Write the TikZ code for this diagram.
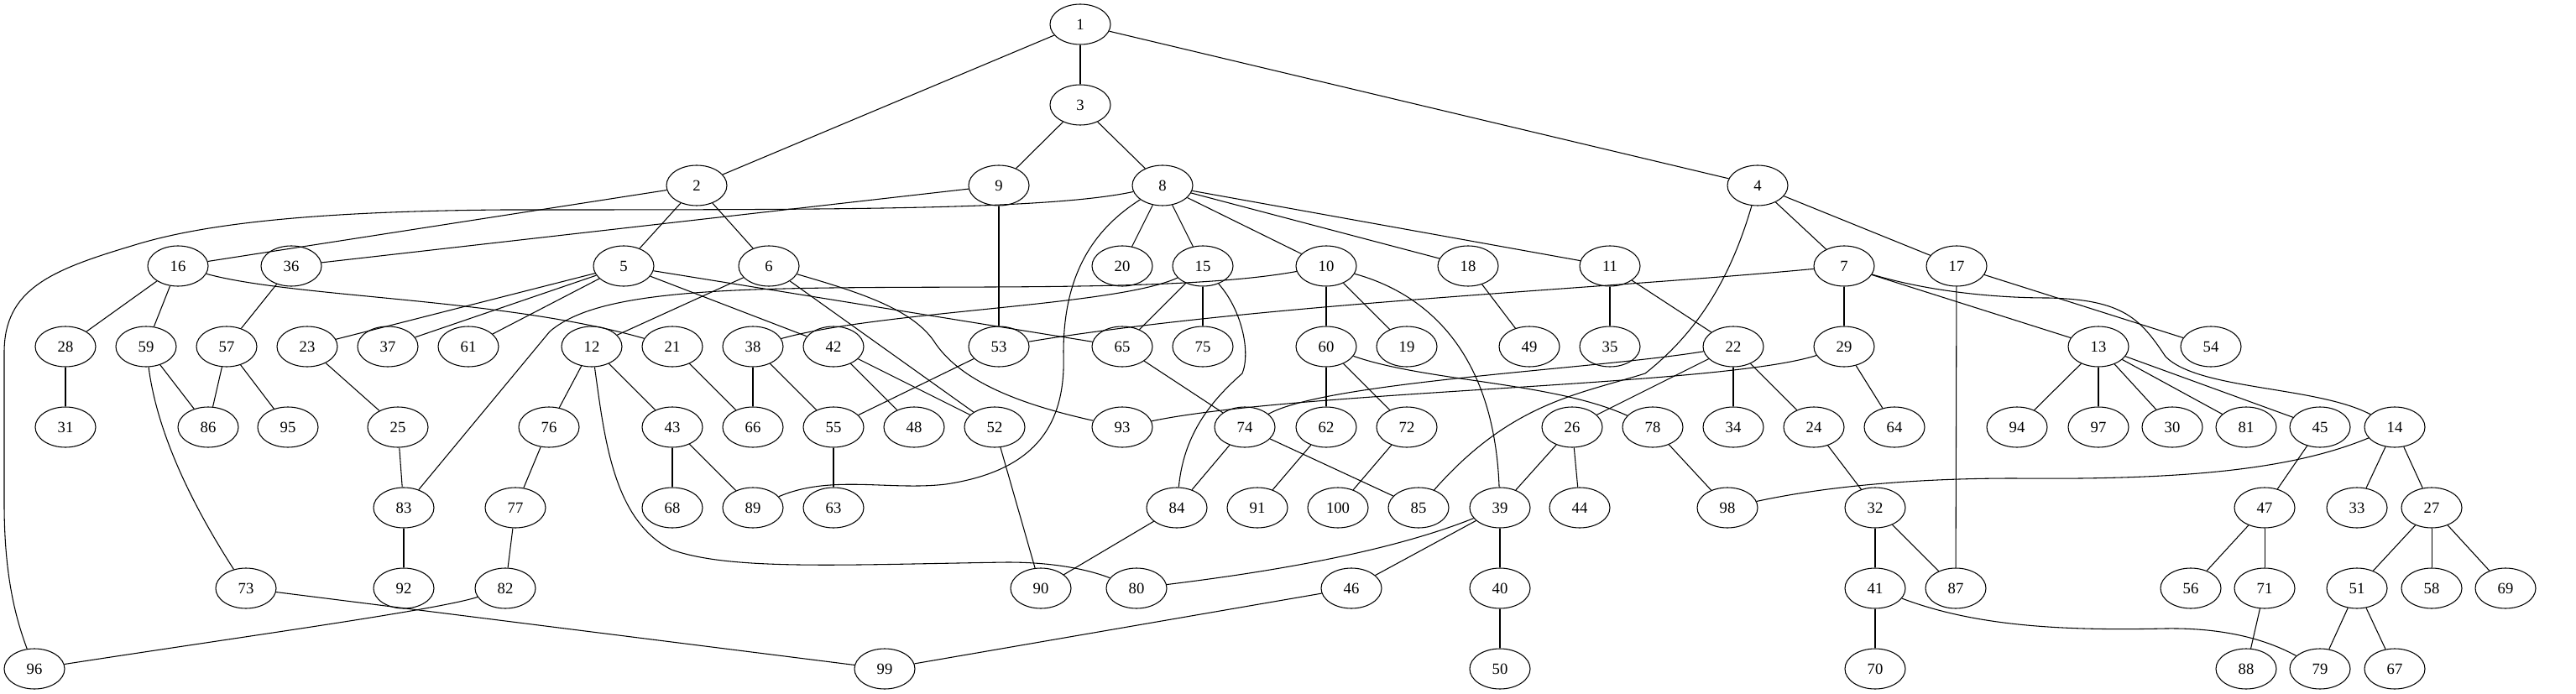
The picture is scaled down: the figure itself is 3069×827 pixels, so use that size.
\documentclass[tikz,border=0pt]{standalone}
\usepackage{fontspec}
\setmainfont{Liberation Serif}
\usetikzlibrary{shapes.geometric}
\tikzset{
	vertex/.style={draw, ellipse, line width=0.8pt, minimum width=54pt, minimum height=36pt, inner sep=0pt, font=\fontsize{14}{16}\selectfont},
	link/.style={line width=0.8pt}
}
\begin{document}
\begin{tikzpicture}[x=0.75pt, y=-0.75pt]
			%%%%% START %%%%%
			\useasboundingbox (0,0) rectangle (3069,827);
			
			% rank 0 and 1
			\node[vertex] (n1) at (1287, 29) {1};
			\node[vertex] (n3) at (1287, 125) {3};
			
			% rank 2
			\node[vertex] (n2) at (830, 221) {2};
			\node[vertex] (n9) at (1190, 221) {9};
			\node[vertex] (n8) at (1385, 221) {8};
			\node[vertex] (n4) at (2094, 221) {4};
			
			% rank 3
			\node[vertex] (n16) at (212, 317) {16};
			\node[vertex] (n36) at (347, 317) {36};
			\node[vertex] (n5) at (743, 317) {5};
			\node[vertex] (n6) at (916, 317) {6};
			\node[vertex] (n20) at (1337, 317) {20};
			\node[vertex] (n15) at (1433, 317) {15};
			\node[vertex] (n10) at (1580, 317) {10};
			\node[vertex] (n18) at (1749, 317) {18};
			\node[vertex] (n11) at (1918, 317) {11};
			\node[vertex] (n7) at (2197, 317) {7};
			\node[vertex] (n17) at (2331, 317) {17};
			
			% rank 4
			\node[vertex] (n28) at (78, 413) {28};
			\node[vertex] (n59) at (174, 413) {59};
			\node[vertex] (n57) at (270, 413) {57};
			\node[vertex] (n23) at (366, 413) {23};
			\node[vertex] (n37) at (462, 413) {37};
			\node[vertex] (n61) at (558, 413) {61};
			\node[vertex] (n12) at (705, 413) {12};
			\node[vertex] (n21) at (801, 413) {21};
			\node[vertex] (n38) at (897, 413) {38};
			\node[vertex] (n42) at (993, 413) {42};
			\node[vertex] (n53) at (1190, 413) {53};
			\node[vertex] (n65) at (1337, 413) {65};
			\node[vertex] (n75) at (1433, 413) {75};
			\node[vertex] (n60) at (1580, 413) {60};
			\node[vertex] (n19) at (1676, 413) {19};
			\node[vertex] (n49) at (1822, 413) {49};
			\node[vertex] (n35) at (1918, 413) {35};
			\node[vertex] (n22) at (2065, 413) {22};
			\node[vertex] (n29) at (2197, 413) {29};
			\node[vertex] (n13) at (2500, 413) {13};
			\node[vertex] (n54) at (2634, 413) {54};
			
			% rank 5
			\node[vertex] (n31) at (78, 509) {31};
			\node[vertex] (n86) at (248, 509) {86};
			\node[vertex] (n95) at (343, 509) {95};
			\node[vertex] (n25) at (474, 509) {25};
			\node[vertex] (n76) at (654, 509) {76};
			\node[vertex] (n43) at (801, 509) {43};
			\node[vertex] (n66) at (897, 509) {66};
			\node[vertex] (n55) at (993, 509) {55};
			\node[vertex] (n48) at (1089, 509) {48};
			\node[vertex] (n52) at (1185, 509) {52};
			\node[vertex] (n93) at (1337, 509) {93};
			\node[vertex] (n74) at (1483, 509) {74};
			\node[vertex] (n62) at (1580, 509) {62};
			\node[vertex] (n72) at (1676, 509) {72};
			\node[vertex] (n26) at (1873, 509) {26};
			\node[vertex] (n78) at (1969, 509) {78};
			\node[vertex] (n34) at (2065, 509) {34};
			\node[vertex] (n24) at (2161, 509) {24};
			\node[vertex] (n64) at (2257, 509) {64};
			\node[vertex] (n94) at (2403, 509) {94};
			\node[vertex] (n97) at (2500, 509) {97};
			\node[vertex] (n30) at (2588, 509) {30};
			\node[vertex] (n81) at (2676, 509) {81};
			\node[vertex] (n45) at (2764, 509) {45};
			\node[vertex] (n14) at (2853, 509) {14};
			
			% rank 6
			\node[vertex] (n83) at (481, 605) {83};
			\node[vertex] (n77) at (614, 605) {77};
			\node[vertex] (n68) at (801, 605) {68};
			\node[vertex] (n89) at (897, 605) {89};
			\node[vertex] (n63) at (993, 605) {63};
			\node[vertex] (n84) at (1402, 605) {84};
			\node[vertex] (n91) at (1498, 605) {91};
			\node[vertex] (n100) at (1594, 605) {100};
			\node[vertex] (n85) at (1690, 605) {85};
			\node[vertex] (n39) at (1787, 605) {39};
			\node[vertex] (n44) at (1882, 605) {44};
			\node[vertex] (n98) at (2058, 605) {98};
			\node[vertex] (n32) at (2234, 605) {32};
			\node[vertex] (n47) at (2698, 605) {47};
			\node[vertex] (n33) at (2808, 605) {33};
			\node[vertex] (n27) at (2897, 605) {27};
			
			% rank 7
			\node[vertex] (n73) at (293, 701) {73};
			\node[vertex] (n92) at (481, 701) {92};
			\node[vertex] (n82) at (602, 701) {82};
			\node[vertex] (n90) at (1240, 701) {90};
			\node[vertex] (n80) at (1354, 701) {80};
			\node[vertex] (n46) at (1610, 701) {46};
			\node[vertex] (n40) at (1787, 701) {40};
			\node[vertex] (n41) at (2234, 701) {41};
			\node[vertex] (n87) at (2330, 701) {87};
			\node[vertex] (n56) at (2610, 701) {56};
			\node[vertex] (n71) at (2698, 701) {71};
			\node[vertex] (n51) at (2808, 701) {51};
			\node[vertex] (n58) at (2897, 701) {58};
			\node[vertex] (n69) at (2985, 701) {69};
			
			% rank 8
			\node[vertex] (n96) at (41, 797) {96};
			\node[vertex] (n99) at (1054, 797) {99};
			\node[vertex] (n50) at (1787, 797) {50};
			\node[vertex] (n70) at (2234, 797) {70};
			\node[vertex] (n88) at (2676, 797) {88};
			\node[vertex] (n79) at (2764, 797) {79};
			\node[vertex] (n67) at (2853, 797) {67};
			
			% straight edges
			\draw[link] (n1) -- (n2);
			\draw[link] (n1) -- (n3);
			\draw[link] (n1) -- (n4);
			\draw[link] (n3) -- (n9);
			\draw[link] (n3) -- (n8);
			\draw[link] (n2) -- (n16);
			\draw[link] (n2) -- (n5);
			\draw[link] (n2) -- (n6);
			\draw[link] (n9) -- (n36);
			\draw[link] (n9) -- (n53);
			\draw[link] (n8) -- (n20);
			\draw[link] (n8) -- (n15);
			\draw[link] (n8) -- (n10);
			\draw[link] (n8) -- (n18);
			\draw[link] (n8) -- (n11);
			\draw[link] (n4) -- (n7);
			\draw[link] (n4) -- (n17);
			\draw[link] (n16) -- (n28);
			\draw[link] (n16) -- (n59);
			\draw[link] (n36) -- (n57);
			\draw[link] (n5) -- (n23);
			\draw[link] (n5) -- (n37);
			\draw[link] (n5) -- (n61);
			\draw[link] (n5) -- (n42);
			\draw[link] (n5) -- (n65);
			\draw[link] (n6) -- (n12);
			\draw[link] (n6) -- (n52);
			\draw[link] (n15) -- (n65);
			\draw[link] (n15) -- (n75);
			\draw[link] (n10) -- (n60);
			\draw[link] (n10) -- (n19);
			\draw[link] (n18) -- (n49);
			\draw[link] (n11) -- (n35);
			\draw[link] (n11) -- (n22);
			\draw[link] (n7) -- (n29);
			\draw[link] (n7) -- (n13);
			\draw[link] (n17) -- (n54);
			\draw[link] (n17) -- (n87);
			\draw[link] (n28) -- (n31);
			\draw[link] (n59) -- (n86);
			\draw[link] (n57) -- (n86);
			\draw[link] (n57) -- (n95);
			\draw[link] (n23) -- (n25);
			\draw[link] (n12) -- (n76);
			\draw[link] (n12) -- (n43);
			\draw[link] (n21) -- (n66);
			\draw[link] (n38) -- (n66);
			\draw[link] (n38) -- (n55);
			\draw[link] (n42) -- (n48);
			\draw[link] (n42) -- (n52);
			\draw[link] (n53) -- (n55);
			\draw[link] (n65) -- (n74);
			\draw[link] (n60) -- (n62);
			\draw[link] (n60) -- (n72);
			\draw[link] (n22) -- (n26);
			\draw[link] (n22) -- (n34);
			\draw[link] (n22) -- (n24);
			\draw[link] (n29) -- (n64);
			\draw[link] (n13) -- (n94);
			\draw[link] (n13) -- (n97);
			\draw[link] (n13) -- (n30);
			\draw[link] (n13) -- (n81);
			\draw[link] (n13) -- (n45);
			\draw[link] (n25) -- (n83);
			\draw[link] (n76) -- (n77);
			\draw[link] (n43) -- (n68);
			\draw[link] (n43) -- (n89);
			\draw[link] (n55) -- (n63);
			\draw[link] (n52) -- (n90);
			\draw[link] (n74) -- (n84);
			\draw[link] (n74) -- (n85);
			\draw[link] (n62) -- (n91);
			\draw[link] (n72) -- (n100);
			\draw[link] (n26) -- (n39);
			\draw[link] (n26) -- (n44);
			\draw[link] (n78) -- (n98);
			\draw[link] (n24) -- (n32);
			\draw[link] (n45) -- (n47);
			\draw[link] (n14) -- (n33);
			\draw[link] (n14) -- (n27);
			\draw[link] (n83) -- (n92);
			\draw[link] (n77) -- (n82);
			\draw[link] (n84) -- (n90);
			\draw[link] (n39) -- (n46);
			\draw[link] (n39) -- (n40);
			\draw[link] (n32) -- (n41);
			\draw[link] (n32) -- (n87);
			\draw[link] (n47) -- (n56);
			\draw[link] (n47) -- (n71);
			\draw[link] (n27) -- (n51);
			\draw[link] (n27) -- (n58);
			\draw[link] (n27) -- (n69);
			\draw[link] (n73) -- (n99);
			\draw[link] (n46) -- (n99);
			\draw[link] (n40) -- (n50);
			\draw[link] (n41) -- (n70);
			\draw[link] (n71) -- (n88);
			\draw[link] (n51) -- (n79);
			\draw[link] (n51) -- (n67);
			
			% curved edges
			\draw[link] (n8) .. controls (1250,250) and (1000,250) .. (600,250) .. controls (350,252) and (230,270) .. (157,293) .. controls (60,322) and (5,345) .. (5,420) -- (5,600) .. controls (5,690) and (20,740) .. (n96);
			\draw[link] (n8) .. controls (1300,275) and (1267,330) .. (1267,420) .. controls (1270,500) and (1240,560) .. (1127,577) .. controls (1060,585) and (990,565) .. (n89);
			\draw[link] (n4) .. controls (2065,320) and (2030,390) .. (1960,445) .. controls (1880,470) and (1800,480) .. (n85);
			\draw[link] (n16) .. controls (350,355) and (600,355) .. (n21);
			\draw[link] (n6) .. controls (1030,350) and (1090,370) .. (1115,410) .. controls (1150,460) and (1230,485) .. (n93);
			\draw[link] (n12) .. controls (720,520) and (730,620) .. (800,655) .. controls (870,680) and (1000,673) .. (1200,670) .. controls (1260,670) and (1300,680) .. (n80);
			\draw[link] (n15) .. controls (1330,365) and (1050,370) .. (n38);
			\draw[link] (n15) .. controls (1480,370) and (1490,420) .. (1480,445) .. controls (1440,480) and (1410,520) .. (n84);
			\draw[link] (n10) .. controls (1400,350) and (1100,338) .. (900,345) .. controls (760,350) and (690,365) .. (655,395) -- (n83);
			\draw[link] (n10) .. controls (1700,350) and (1780,420) .. (n39);
			\draw[link] (n53) .. controls (1500,362) and (1900,345) .. (n7);
			\draw[link] (n7) .. controls (2300,348) and (2380,355) .. (2440,355) .. controls (2530,357) and (2550,380) .. (2580,425) .. controls (2620,465) and (2760,460) .. (n14);
			\draw[link] (n74) .. controls (1580,455) and (1900,440) .. (n22);
			\draw[link] (n93) .. controls (1550,465) and (2050,460) .. (n29);
			\draw[link] (n60) .. controls (1700,455) and (1850,455) .. (n78);
			\draw[link] (n14) .. controls (2730,560) and (2600,572) .. (2400,570) .. controls (2250,570) and (2150,585) .. (n98);
			\draw[link] (n59) .. controls (185,500) and (215,580) .. (n73);
			\draw[link] (n82) .. controls (520,727) and (300,757) .. (n96);
			\draw[link] (n39) .. controls (1650,660) and (1500,683) .. (n80);
			\draw[link] (n41) .. controls (2350,745) and (2450,752) .. (2580,749) .. controls (2650,748) and (2700,762) .. (n79);
			
			%%%%% END %%%%%
\end{tikzpicture}
\end{document}
